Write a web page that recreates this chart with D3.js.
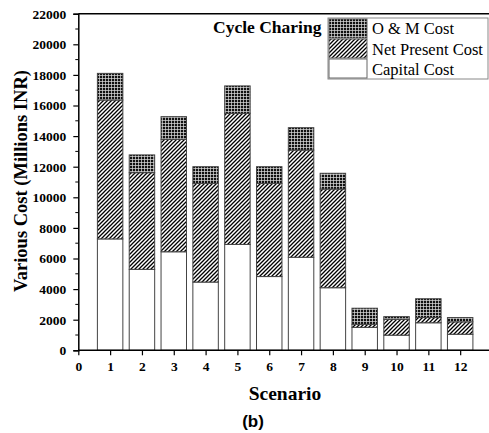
<!DOCTYPE html>
<html>
<head>
<meta charset="utf-8">
<script src="https://cdn.jsdelivr.net/npm/d3@7"></script>
<style>
  html, body { margin: 0; padding: 0; background: #fff; }
  svg { display: block; }
</style>
</head>
<body>
<svg id="chart" width="489" height="433"></svg>
<script>
// Scenario costs in millions of INR, one array per stacked component
const scenarios = [1, 2, 3, 4, 5, 6, 7, 8, 9, 10, 11, 12];
const capitalCost = [7280, 5290, 6440, 4460, 6920, 4820, 6080, 4090, 1500, 990, 1800, 1050];
const netPresentCost = [9080, 6320, 7350, 6450, 8570, 6090, 7010, 6450, 200, 1040, 340, 810];
const omCost = [1740, 1160, 1480, 1090, 1790, 1090, 1460, 1030, 1050, 170, 1230, 280];
const xTicks = [0, 1, 2, 3, 4, 5, 6, 7, 8, 9, 10, 11, 12];
const yTicks = [0, 2000, 4000, 6000, 8000, 10000, 12000, 14000, 16000, 18000, 20000, 22000];
const seriesKeys = ["capital", "npc", "om"];
const legendLabels = ["O & M Cost", "Net Present Cost", "Capital Cost"];

const rows = scenarios.map((s, i) => ({
  scenario: s,
  capital: capitalCost[i],
  npc: netPresentCost[i],
  om: omCost[i]
}));

const svg = d3.select("#chart");
const plotLeft = 78.3, plotTop = 13.7, plotBottom = 350.3, plotRight = 492;
const serif = "'Liberation Serif', 'Times New Roman', serif";

const x = d3.scaleLinear().domain([0, 13]).range([plotLeft, plotRight]);
const y = d3.scaleLinear().domain([0, 22000]).range([plotBottom, plotTop]);

// Fill patterns
const defs = svg.append("defs");
const hatch = defs.append("pattern")
  .attr("id", "hatch").attr("patternUnits", "userSpaceOnUse")
  .attr("width", 4).attr("height", 4);
hatch.append("rect").attr("width", 4).attr("height", 4).attr("fill", "#fff");
hatch.append("path")
  .attr("d", "M-1,1 l2,-2 M0,4 l4,-4 M3,5 l2,-2")
  .attr("stroke", "#000").attr("stroke-width", 1.3);

const grid = defs.append("pattern")
  .attr("id", "grid").attr("patternUnits", "userSpaceOnUse")
  .attr("width", 3).attr("height", 3);
grid.append("rect").attr("width", 3).attr("height", 3).attr("fill", "#111");
grid.append("path")
  .attr("d", "M0,0.4 H3 M0.4,0 V3")
  .attr("stroke", "#ddd").attr("stroke-width", 0.8);

const fills = { capital: "#fff", npc: "url(#hatch)", om: "url(#grid)" };

// Stacked bars
const stacked = d3.stack().keys(seriesKeys)(rows);
const barW = (x(1) - x(0)) * 0.8;

svg.append("g").selectAll("g")
  .data(stacked)
  .join("g")
  .attr("fill", d => fills[d.key])
  .selectAll("rect")
  .data(d => d)
  .join("rect")
  .attr("x", d => x(d.data.scenario) - barW / 2)
  .attr("y", d => y(d[1]))
  .attr("width", barW)
  .attr("height", d => y(d[0]) - y(d[1]))
  .attr("stroke", "#444")
  .attr("stroke-width", 1);

// Top frame line
svg.append("line")
  .attr("x1", plotLeft).attr("x2", 489).attr("y1", plotTop).attr("y2", plotTop)
  .attr("stroke", "#000").attr("stroke-width", 1.5);

// Y axis with minor ticks
const yAxis = svg.append("g").attr("transform", `translate(${plotLeft},0)`)
  .call(d3.axisLeft(y).tickValues(yTicks).tickSize(5).tickPadding(7).tickFormat(d3.format("d")));
const minor = d3.range(1000, 22000, 2000);
yAxis.selectAll(".minor").data(minor).join("line")
  .attr("class", "minor")
  .attr("x1", 0).attr("x2", -3).attr("y1", d => y(d)).attr("y2", d => y(d))
  .attr("stroke", "#000").attr("stroke-width", 1);

// X axis
const xAxis = svg.append("g").attr("transform", `translate(0,${plotBottom})`)
  .call(d3.axisBottom(x).tickValues(xTicks).tickSize(5).tickPadding(6).tickFormat(d3.format("d")));

[yAxis, xAxis].forEach(a => {
  a.select(".domain").attr("stroke", "#000").attr("stroke-width", 1.5);
  a.selectAll(".tick line").attr("stroke", "#000").attr("stroke-width", 1.2);
  a.selectAll("text")
    .attr("font-family", serif).attr("font-weight", "bold")
    .attr("font-size", 13.5).attr("fill", "#000");
});
xAxis.select(".domain").attr("d", `M${plotLeft},0H489`);

// Axis titles
svg.append("text")
  .attr("transform", "translate(27,181) rotate(-90)")
  .attr("text-anchor", "middle")
  .attr("font-family", serif).attr("font-weight", "bold").attr("font-size", 18.5)
  .text("Various Cost (Millions INR)");

svg.append("text")
  .attr("x", 285).attr("y", 400)
  .attr("text-anchor", "middle")
  .attr("font-family", serif).attr("font-weight", "bold").attr("font-size", 19.5)
  .text("Scenario");

svg.append("text")
  .attr("x", 253).attr("y", 427)
  .attr("text-anchor", "middle")
  .attr("font-family", "'Liberation Sans', Arial, sans-serif").attr("font-weight", "bold").attr("font-size", 17)
  .text("(b)");

// Inset title
svg.append("text")
  .attr("x", 213).attr("y", 33)
  .attr("font-family", serif).attr("font-weight", "bold").attr("font-size", 17.5)
  .text("Cycle Charing");

// Legend
const lg = svg.append("g").attr("transform", "translate(328,18)");
lg.append("rect")
  .attr("width", 160).attr("height", 61)
  .attr("fill", "#fff").attr("stroke", "#888").attr("stroke-width", 1);
const legendKeys = ["om", "npc", "capital"];
legendKeys.forEach((k, i) => {
  lg.append("rect")
    .attr("x", 1).attr("y", 1 + i * 20)
    .attr("width", 38).attr("height", 19)
    .attr("fill", fills[k]).attr("stroke", "#666").attr("stroke-width", 1);
  lg.append("text")
    .attr("x", 44).attr("y", 16 + i * 20.5)
    .attr("font-family", serif).attr("font-size", 16.5)
    .text(legendLabels[i]);
});
</script>
</body>
</html>
